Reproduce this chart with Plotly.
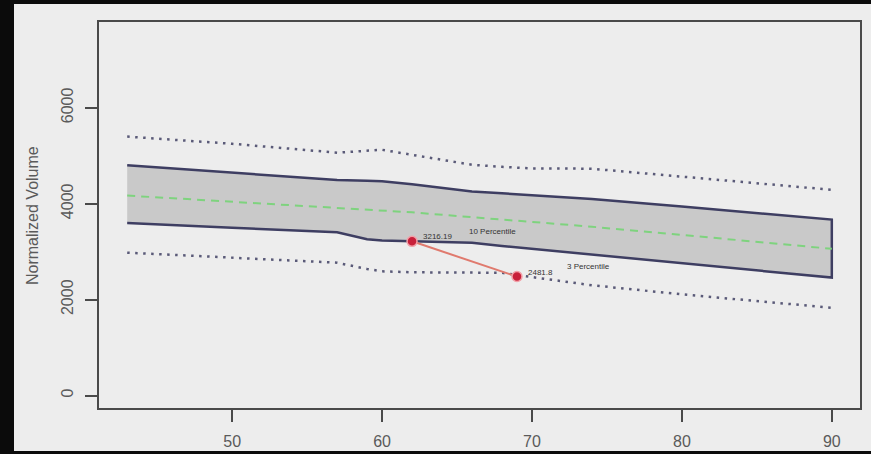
import plotly.graph_objects as go

# ---- data ----
ages = [43, 50, 57, 59, 60, 62, 66, 68, 70, 72, 74, 80, 90]
p97 = [5400, 5250, 5065, 5110, 5125, 5020, 4812, 4770, 4735, 4735, 4730, 4565, 4290]
p90 = [4800, 4650, 4495, 4480, 4470, 4405, 4256, 4217, 4178, 4139, 4100, 3940, 3670]
p50 = [4170, 4040, 3915, 3880, 3860, 3820, 3720, 3670, 3620, 3570, 3520, 3350, 3060]
p10 = [3600, 3500, 3405, 3260, 3235, 3215, 3185, 3120, 3050, 2990, 2925, 2760, 2460]
p03 = [2980, 2870, 2770, 2640, 2590, 2570, 2570, 2560, 2470, 2380, 2300, 2110, 1830]

patient_age = [62, 69]
patient_vol = [3216.19, 2481.8]
patient_labels = ["3216.19", "2481.8"]

x_ticks = [50, 60, 70, 80, 90]
y_ticks = [0, 2000, 4000, 6000]

band_labels = ["10 Percentile", "3 Percentile"]
band_label_x = [67.35, 73.8]
band_label_y = [3420, 2685]

# ---- layout geometry ----
W, H = 871, 454
ML, MR, MT, MB = 99, 11, 22, 46
pw, ph = W - ML - MR, H - MT - MB

def px_x(px):
    return (px - ML) / pw

def px_y(py):
    return (H - MB - py) / ph

BG = "#ededed"
AX = "#4a4a4a"
TXT = "#5a5a5a"
FONT = "Liberation Sans, Arial, sans-serif"

fig = go.Figure()

# shaded 10-90 band
fig.add_trace(go.Scatter(
    x=ages + ages[::-1], y=p90 + p10[::-1],
    fill="toself", fillcolor="#c9c9c9",
    line=dict(color="#3e3e62", width=2.5),
    mode="lines", hoverinfo="skip", showlegend=False))

# median line
fig.add_trace(go.Scatter(
    x=ages, y=p50, mode="lines",
    line=dict(color="#7ed37e", width=2, dash="8px,6px"),
    showlegend=False))

# outer dotted percentiles
for arr in (p97, p03):
    fig.add_trace(go.Scatter(
        x=ages, y=arr, mode="lines",
        line=dict(color="#5a5a78", width=2.5, dash="2.5px,5.5px"),
        showlegend=False))

# patient measurements
fig.add_trace(go.Scatter(
    x=patient_age, y=patient_vol, mode="lines+markers",
    line=dict(color="#e07a6e", width=2),
    marker=dict(color="#c8203a", size=10, line=dict(color="#f2a0a8", width=1.5)),
    showlegend=False))

annotations = []
for xa, ya, lab in zip(patient_age, patient_vol, patient_labels):
    annotations.append(dict(
        x=xa, y=ya, xref="x", yref="y", text=lab, showarrow=False,
        xanchor="left", yanchor="bottom", xshift=9, yshift=-2,
        font=dict(family=FONT, size=8, color="#333333")))
for lab, xa, ya in zip(band_labels, band_label_x, band_label_y):
    annotations.append(dict(
        x=xa, y=ya, xref="x", yref="y", text=lab, showarrow=False,
        font=dict(family=FONT, size=8, color="#333333")))

annotations.append(dict(
    x=px_x(32), y=px_y(216), xref="paper", yref="paper",
    xanchor="center", yanchor="middle",
    text="Normalized Volume", textangle=-90, showarrow=False,
    font=dict(family=FONT, size=16, color=TXT)))

fig.update_layout(
    width=W, height=H, autosize=False,
    margin=dict(l=ML, r=MR, t=MT, b=MB, pad=0, autoexpand=False),
    paper_bgcolor="#0b0b0b", plot_bgcolor=BG,
    annotations=annotations,
    shapes=[dict(type="rect", xref="paper", yref="paper", layer="below",
                 x0=px_x(14), x1=px_x(872), y0=px_y(451), y1=px_y(4),
                 fillcolor=BG, line=dict(width=0))],
    font=dict(family=FONT, size=16, color=TXT),
)

fig.update_xaxes(
    range=[41.12, 91.88], tickvals=x_ticks, ticktext=[str(v) for v in x_ticks],
    showgrid=False, zeroline=False, showline=True, linecolor=AX, linewidth=2,
    mirror=True, ticks="outside", ticklen=12, tickwidth=1.5, tickcolor=AX,
    automargin=False,
    ticklabelstandoff=6, tickfont=dict(family=FONT, size=16, color=TXT))
fig.update_yaxes(
    range=[-260, 7790], tickvals=y_ticks, ticktext=[str(v) for v in y_ticks],
    showgrid=False, zeroline=False, showline=True, linecolor=AX, linewidth=2,
    mirror=True, ticks="outside", ticklen=12, tickwidth=1.5, tickcolor=AX,
    automargin=False,
    tickangle=-90, ticklabelstandoff=6, tickfont=dict(family=FONT, size=16, color=TXT))

fig.write_html(
    "out.html",
    config={"displayModeBar": False},
    post_script="document.body.style.margin='0';document.body.style.overflow='hidden';",
)
